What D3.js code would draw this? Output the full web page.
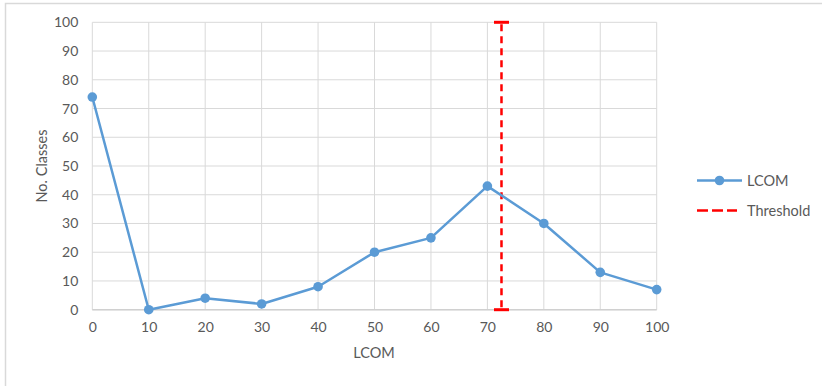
<!DOCTYPE html>
<html>
<head>
<meta charset="utf-8">
<script src="https://cdn.jsdelivr.net/npm/d3@7"></script>
<style>
  html, body { margin: 0; padding: 0; background: #fff; }
  svg { display: block; }
  text { font-family: Lato, "Open Sans", sans-serif; fill: #595959; }
</style>
</head>
<body>
<svg id="chart" width="822" height="386"></svg>
<script>
// LCOM distribution: number of classes per LCOM bucket
const lcomBuckets = [0, 10, 20, 30, 40, 50, 60, 70, 80, 90, 100];
const classCounts = [74, 0, 4, 2, 8, 20, 25, 43, 30, 13, 7];
const yTicks = [0, 10, 20, 30, 40, 50, 60, 70, 80, 90, 100];
const thresholdValue = 72.5;
const legendLabels = ["LCOM", "Threshold"];

const svg = d3.select("#chart");
const blue = "#5b9bd5";
const grid = "#d9d9d9";
const fontStack = "Lato, 'Open Sans', sans-serif";

// outer chart frame
svg.append("rect")
  .attr("x", 5.5).attr("y", 3.5)
  .attr("width", 830).attr("height", 390)
  .attr("fill", "none").attr("stroke", grid).attr("stroke-width", 1.5);

const plot = { left: 92.3, right: 656.7, top: 22.3, bottom: 309.7 };

const x = d3.scaleLinear().domain([0, 100]).range([plot.left, plot.right]);
const y = d3.scaleLinear().domain([0, 100]).range([plot.bottom, plot.top]);

// gridlines
svg.append("g")
  .selectAll("line")
  .data(yTicks)
  .join("line")
  .attr("x1", plot.left).attr("x2", plot.right)
  .attr("y1", d => y(d)).attr("y2", d => y(d))
  .attr("stroke", grid).attr("stroke-width", 1);

svg.append("g")
  .selectAll("line")
  .data(lcomBuckets)
  .join("line")
  .attr("y1", plot.top).attr("y2", plot.bottom)
  .attr("x1", d => x(d)).attr("x2", d => x(d))
  .attr("stroke", grid).attr("stroke-width", 1);

// x axis baseline
svg.append("line")
  .attr("x1", plot.left).attr("x2", plot.right)
  .attr("y1", plot.bottom).attr("y2", plot.bottom)
  .attr("stroke", "#d0d0d0").attr("stroke-width", 1.5);

// axes tick labels (via d3 axes, lines hidden)
const yAxis = svg.append("g")
  .attr("transform", `translate(${plot.left},0)`)
  .call(d3.axisLeft(y).tickValues(yTicks).tickSize(0).tickPadding(14));
yAxis.select(".domain").remove();
yAxis.selectAll("text")
  .style("font-family", fontStack)
  .style("font-size", "14px").attr("fill", "#595959");

const xAxis = svg.append("g")
  .attr("transform", `translate(0,${plot.bottom})`)
  .call(d3.axisBottom(x).tickValues(lcomBuckets).tickSize(0).tickPadding(12));
xAxis.select(".domain").remove();
xAxis.selectAll("text")
  .style("font-family", fontStack)
  .style("font-size", "14px").attr("fill", "#595959");

// axis titles
svg.append("text")
  .attr("x", 374).attr("y", 358)
  .attr("text-anchor", "middle")
  .style("font-size", "14.5px")
  .text("LCOM");

svg.append("text")
  .attr("transform", `translate(47,${(plot.top + plot.bottom) / 2}) rotate(-90)`)
  .attr("text-anchor", "middle")
  .style("font-size", "14.5px")
  .text("No. Classes");

// threshold marker with end caps
const tx = x(thresholdValue);
svg.append("line")
  .attr("x1", tx).attr("x2", tx)
  .attr("y1", y(100) + 2).attr("y2", y(0) - 2)
  .attr("stroke", "#ff0000").attr("stroke-width", 2.5)
  .attr("stroke-dasharray", "7,5");
[100, 0].forEach(v => {
  svg.append("line")
    .attr("x1", tx - 7.5).attr("x2", tx + 7.5)
    .attr("y1", y(v)).attr("y2", y(v))
    .attr("stroke", "#ff0000").attr("stroke-width", 3);
});

// LCOM series
const line = d3.line()
  .x((d, i) => x(lcomBuckets[i]))
  .y(d => y(d));

svg.append("path")
  .datum(classCounts)
  .attr("d", line)
  .attr("fill", "none")
  .attr("stroke", blue)
  .attr("stroke-width", 2.5)
  .attr("stroke-linejoin", "round");

svg.append("g")
  .selectAll("circle")
  .data(classCounts)
  .join("circle")
  .attr("cx", (d, i) => x(lcomBuckets[i]))
  .attr("cy", d => y(d))
  .attr("r", 4.8)
  .attr("fill", blue);

// legend
const lg = svg.append("g");
lg.append("line")
  .attr("x1", 697).attr("x2", 742).attr("y1", 180.5).attr("y2", 180.5)
  .attr("stroke", blue).attr("stroke-width", 2.5);
lg.append("circle").attr("cx", 719.5).attr("cy", 180.5).attr("r", 4.8).attr("fill", blue);
lg.append("text").attr("x", 747).attr("y", 185.5).style("font-size", "14.5px").text(legendLabels[0]);

lg.append("line")
  .attr("x1", 697).attr("x2", 737).attr("y1", 210.5).attr("y2", 210.5)
  .attr("stroke", "#ff0000").attr("stroke-width", 2.5)
  .attr("stroke-dasharray", "11,4");
lg.append("text").attr("x", 747).attr("y", 215.5).style("font-size", "14.5px").text(legendLabels[1]);
</script>
</body>
</html>
